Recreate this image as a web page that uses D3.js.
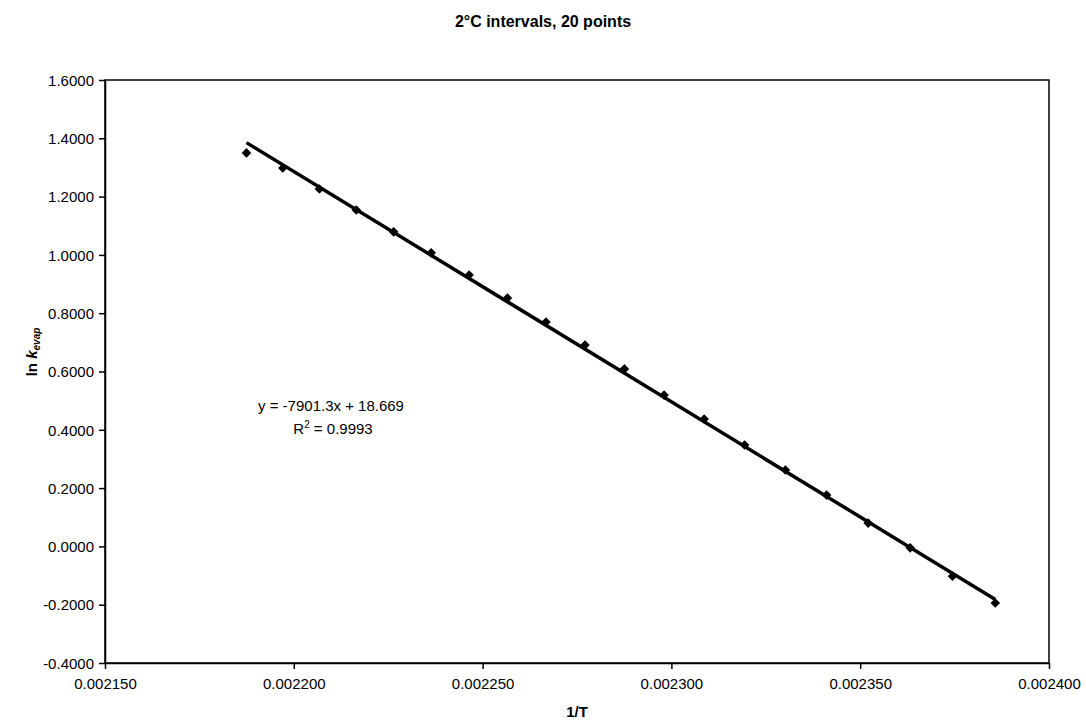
<!DOCTYPE html>
<html>
<head>
<meta charset="utf-8">
<script src="https://cdn.jsdelivr.net/npm/d3@7"></script>
<style>
  html, body { margin: 0; padding: 0; background: #fff; }
  svg { display: block; font-family: Arial, "Liberation Sans", sans-serif; }
</style>
</head>
<body>
<svg id="chart" width="1086" height="723"></svg>
<script>
// ---- data ----
const tempsC = [184, 182, 180, 178, 176, 174, 172, 170, 168, 166, 164, 162, 160, 158, 156, 154, 152, 150, 148, 146];
const invT = tempsC.map(t => 1 / (t + 273.15));
const lnKevap = [1.350, 1.298, 1.226, 1.154, 1.079, 1.007, 0.931, 0.852, 0.770, 0.691,
                 0.609, 0.519, 0.437, 0.348, 0.262, 0.176, 0.080, -0.005, -0.102, -0.194];
const fitSlope = -7901.3;
const fitIntercept = 18.669;
const fitR2 = 0.9993;
const xTicks = [0.00215, 0.0022, 0.00225, 0.0023, 0.00235, 0.0024];
const yTicks = [-0.4, -0.2, 0.0, 0.2, 0.4, 0.6, 0.8, 1.0, 1.2, 1.4, 1.6];
const titleText = "2°C intervals, 20 points";
const xTitle = "1/T";

// ---- layout ----
const svg = d3.select("#chart");
const m = { left: 105, right: 1049, top: 80, bottom: 663 };
const loc = d3.formatLocale({ decimal: ".", thousands: ",", grouping: [3], currency: ["", ""], minus: "-" });

const x = d3.scaleLinear().domain([0.00215, 0.0024]).range([m.left, m.right]);
const y = d3.scaleLinear().domain([-0.4, 1.6]).range([m.bottom, m.top]);

// plot frame
svg.append("rect")
  .attr("x", m.left).attr("y", m.top)
  .attr("width", m.right - m.left).attr("height", m.bottom - m.top)
  .attr("fill", "none").attr("stroke", "#000").attr("stroke-width", 1.5);

// axes
const xAxis = d3.axisBottom(x).tickValues(xTicks).tickFormat(loc.format(".6f")).tickSize(6).tickSizeOuter(0);
const yAxis = d3.axisLeft(y).tickValues(yTicks).tickFormat(loc.format(".4f")).tickSize(6).tickSizeOuter(0);

const gx = svg.append("g").attr("transform", `translate(0,${m.bottom})`).call(xAxis);
const gy = svg.append("g").attr("transform", `translate(${m.left},0)`).call(yAxis);
[gx, gy].forEach(g => {
  g.select(".domain").attr("stroke", "#000").attr("stroke-width", 1.5);
  g.selectAll(".tick line").attr("stroke", "#000").attr("stroke-width", 1.5);
  g.selectAll(".tick text").attr("fill", "#000").style("font-size", "15px")
    .style("font-family", "Arial, 'Liberation Sans', sans-serif");
});
gx.selectAll(".tick text").attr("dy", "1.1em");
gy.selectAll(".tick text").attr("x", -11).attr("dy", "0.35em");

// trendline
const xs = d3.extent(invT);
const fitPts = xs.map(v => [v, fitSlope * v + fitIntercept]);
svg.append("path")
  .datum(fitPts)
  .attr("d", d3.line().x(d => x(d[0])).y(d => y(d[1])))
  .attr("fill", "none").attr("stroke", "#000").attr("stroke-width", 3.5)
  .attr("stroke-linecap", "butt");

// markers (diamonds)
const diamond = d3.symbol().type(d3.symbolSquare).size(46);
svg.append("g").selectAll("path")
  .data(invT.map((v, i) => [v, lnKevap[i]]))
  .join("path")
  .attr("d", diamond)
  .attr("transform", d => `translate(${x(d[0])},${y(d[1])}) rotate(45)`)
  .attr("fill", "#000");

// title
svg.append("text")
  .attr("x", 543).attr("y", 27)
  .attr("text-anchor", "middle")
  .style("font-weight", "bold").style("font-size", "16px")
  .text(titleText);

// x-axis title
svg.append("text")
  .attr("x", 577).attr("y", 717)
  .attr("text-anchor", "middle")
  .style("font-weight", "bold").style("font-size", "15px")
  .text(xTitle);

// y-axis title: ln k_evap
const yt = svg.append("text")
  .attr("transform", "translate(37,352) rotate(-90)")
  .attr("text-anchor", "middle")
  .style("font-weight", "bold").style("font-size", "15px");
yt.append("tspan").text("ln ");
yt.append("tspan").style("font-style", "italic").text("k");
yt.append("tspan").style("font-style", "italic").style("font-size", "10px").attr("dy", 3).text("evap");

// regression equation
const eq = svg.append("text").attr("text-anchor", "middle").style("font-size", "15px");
eq.append("tspan").attr("x", 331).attr("y", 411)
  .text(`y = ${fitSlope}x + ${fitIntercept}`);
const r2 = svg.append("text").attr("text-anchor", "middle").style("font-size", "15px")
  .attr("x", 333).attr("y", 434);
r2.append("tspan").text("R");
r2.append("tspan").attr("dy", -6).style("font-size", "10px").text("2");
r2.append("tspan").attr("dy", 6).text(` = ${fitR2}`);
</script>
</body>
</html>
